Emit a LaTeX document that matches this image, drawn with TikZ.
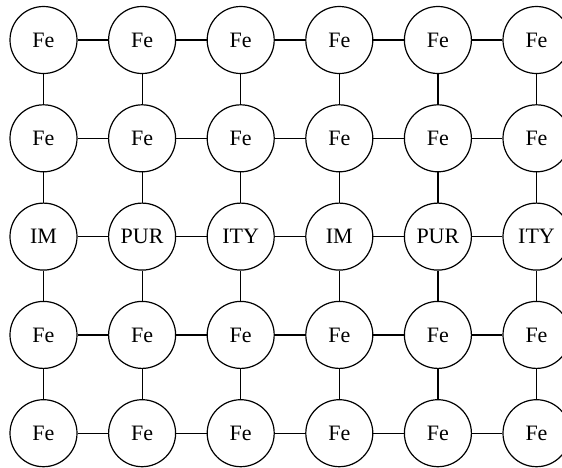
\documentclass[tikz,border=0pt]{standalone}
\usepackage{fontspec}
\setmainfont{Liberation Serif}
\usepackage{tikz}

\begin{document}
\begin{tikzpicture}[x=49.3pt,y=49.15pt,line width=0.6pt,
  atom/.style={draw,circle,minimum size=33.5pt,inner sep=0pt,font=\fontsize{11}{13}\selectfont}]
%\draw[help lines] (0,0) grid (5,-4);
\useasboundingbox (-21.75pt,20pt) rectangle (259.25pt,-213.5pt);
\node[atom] (a1) at (0, 0) {Fe};
\node[atom] (a2) at (1, 0) {Fe};
\node[atom] (a3) at (2, 0) {Fe};
\node[atom] (a4) at (3, 0) {Fe};
\node[atom] (a5) at (4, 0) {Fe};
\node[atom] (a6) at (5, 0) {Fe};
\node[atom] (b1) at (0, -1) {Fe};
\node[atom] (b2) at (1, -1) {Fe};
\node[atom] (b3) at (2, -1) {Fe};
\node[atom] (b4) at (3, -1) {Fe};
\node[atom] (b5) at (4, -1) {Fe};
\node[atom] (b6) at (5, -1) {Fe};
\node[atom] (c1) at (0, -2) {IM};
\node[atom] (c2) at (1, -2) {PUR};
\node[atom] (c3) at (2, -2) {ITY};
\node[atom] (c4) at (3, -2) {IM};
\node[atom] (c5) at (4, -2) {PUR};
\node[atom] (c6) at (5, -2) {ITY};
\node[atom] (d1) at (0, -3) {Fe};
\node[atom] (d2) at (1, -3) {Fe};
\node[atom] (d3) at (2, -3) {Fe};
\node[atom] (d4) at (3, -3) {Fe};
\node[atom] (d5) at (4, -3) {Fe};
\node[atom] (d6) at (5, -3) {Fe};
\node[atom] (e1) at (0, -4) {Fe};
\node[atom] (e2) at (1, -4) {Fe};
\node[atom] (e3) at (2, -4) {Fe};
\node[atom] (e4) at (3, -4) {Fe};
\node[atom] (e5) at (4, -4) {Fe};
\node[atom] (e6) at (5, -4) {Fe};
% rows
\draw (a1) -- (a2) -- (a3) -- (a4) -- (a5) -- (a6);
\draw (b1) -- (b2) -- (b3) -- (b4) -- (b5) -- (b6);
\draw (c1) -- (c2) -- (c3) -- (c4) -- (c5) -- (c6);
\draw (d1) -- (d2) -- (d3) -- (d4) -- (d5) -- (d6);
\draw (e1) -- (e2) -- (e3) -- (e4) -- (e5) -- (e6);
% columns
\draw (a1) -- (b1) -- (c1) -- (d1) -- (e1);
\draw (a2) -- (b2) -- (c2) -- (d2) -- (e2);
\draw (a3) -- (b3) -- (c3) -- (d3) -- (e3);
\draw (a4) -- (b4) -- (c4) -- (d4) -- (e4);
\draw (a5) -- (b5) -- (c5) -- (d5) -- (e5);
\draw (a6) -- (b6) -- (c6) -- (d6) -- (e6);
\end{tikzpicture}
\end{document}
